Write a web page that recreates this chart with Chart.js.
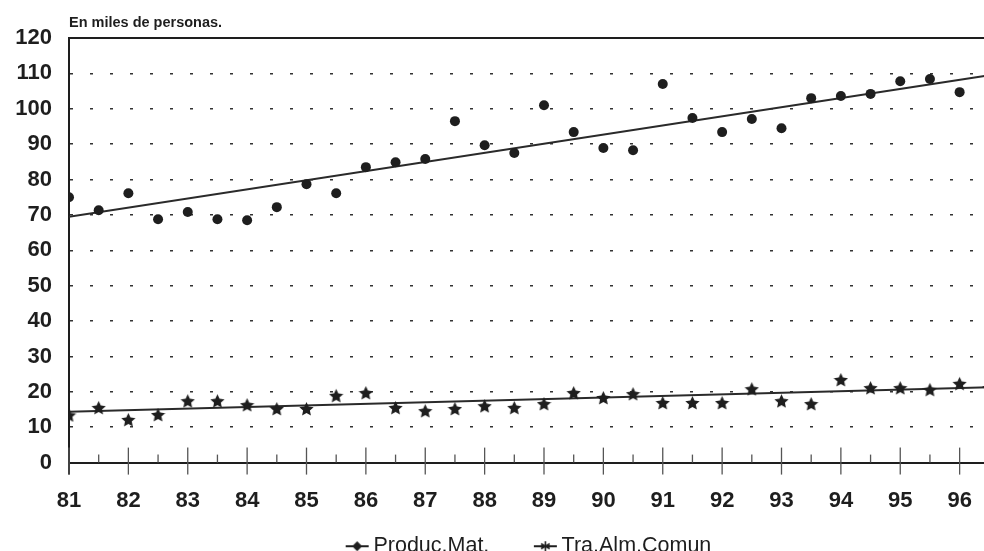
<!DOCTYPE html>
<html>
<head>
<meta charset="utf-8">
<script src="https://cdn.jsdelivr.net/npm/chart.js@4.4.1/dist/chart.umd.min.js"></script>
<style>
  html, body { margin: 0; padding: 0; background: #fff; overflow: hidden; }
  #wrap { width: 1058px; height: 570px; position: relative; }
</style>
</head>
<body>
<div id="wrap"><canvas id="chart"></canvas></div>
<script>
// half-year periods, 81 .. 96.5
const periods = [81, 81.5, 82, 82.5, 83, 83.5, 84, 84.5, 85, 85.5, 86, 86.5,
  87, 87.5, 88, 88.5, 89, 89.5, 90, 90.5, 91, 91.5, 92, 92.5, 93, 93.5,
  94, 94.5, 95, 95.5, 96, 96.5]

const produc_mat = [75, 71.3, 76.1, 68.8, 70.8, 68.8, 68.5, 72.2, 78.7, 76.1,
  83.5, 84.9, 85.8, 96.5, 89.7, 87.5, 101, 93.4, 88.9, 88.3, 107, 97.4,
  93.4, 97.1, 94.5, 103, 103.6, 104.2, 107.8, 108.4, 104.7, 104.7]

const tra_alm_comun = [13.5, 15.6, 12.2, 13.6, 17.5, 17.5, 16.4, 15.3, 15.3, 19.0,
  19.8, 15.6, 14.7, 15.3, 16.1, 15.6, 16.7, 19.8, 18.4, 19.5, 17.0, 17.0,
  17.0, 20.9, 17.5, 16.7, 23.5, 21.2, 21.2, 20.7, 22.4, 21.2]

// trend lines, read at the two ends
const trend_x = [81, 96.5]
const produc_trend = [69.5, 109.5]
const tra_trend = [14.4, 21.3]

const year_ticks = [81, 82, 83, 84, 85, 86, 87, 88, 89, 90, 91, 92, 93, 94, 95, 96]
const series_names = ['Produc.Mat.', 'Tra.Alm.Comun']
const title_text = 'En miles de personas.'

const INK = '#1e1e1e'
const FONT = "'Liberation Sans', Arial, sans-serif"

function to_points(xs, ys) {
  return xs.map((x, i) => ({ x: x, y: ys[i] }))
}

// filled five point star used as point marker
function make_star(size, color) {
  const c = document.createElement('canvas')
  c.width = size
  c.height = size
  const g = c.getContext('2d')
  const r_out = size / 2, r_in = size / 4.2
  g.beginPath()
  for (let i = 0; i < 10; i++) {
    const r = i % 2 == 0 ? r_out : r_in
    const a = -Math.PI / 2 + i * Math.PI / 5
    const px = size / 2 + r * Math.cos(a)
    const py = size / 2 + 1 + r * Math.sin(a)
    if (i == 0) g.moveTo(px, py)
    else g.lineTo(px, py)
  }
  g.closePath()
  g.fillStyle = color
  g.fill()
  return c
}

// legend marker: short line with a symbol on it, placed at the right of the image
function make_legend_marker(kind) {
  const c = document.createElement('canvas')
  c.width = 54
  c.height = 14
  const g = c.getContext('2d')
  g.strokeStyle = INK
  g.fillStyle = INK
  g.lineWidth = 2
  g.beginPath()
  g.moveTo(30, 7)
  g.lineTo(53, 7)
  g.stroke()
  if (kind == 'diamond') {
    g.beginPath()
    g.moveTo(41.5, 2)
    g.lineTo(46.5, 7)
    g.lineTo(41.5, 12)
    g.lineTo(36.5, 7)
    g.closePath()
    g.fill()
  } else {
    g.lineWidth = 1.6
    for (let i = 0; i < 3; i++) {
      const a = i * Math.PI / 3 + Math.PI / 2
      g.beginPath()
      g.moveTo(41.5 - 5 * Math.cos(a), 7 - 5 * Math.sin(a))
      g.lineTo(41.5 + 5 * Math.cos(a), 7 + 5 * Math.sin(a))
      g.stroke()
    }
  }
  return c
}

const star_img = make_star(15, INK)
const legend_markers = [make_legend_marker('diamond'), make_legend_marker('star')]

const frame_plugin = {
  id: 'frame_plugin',
  afterDatasetsDraw(chart) {
    const { ctx, chartArea } = chart
    const xs = chart.scales.x
    const y0 = chart.scales.y.getPixelForValue(0)
    ctx.save()
    ctx.strokeStyle = INK
    // top line
    ctx.lineWidth = 2
    ctx.beginPath()
    ctx.moveTo(chartArea.left, chartArea.top)
    ctx.lineTo(chartArea.right, chartArea.top)
    ctx.stroke()
    // y axis runs a bit below zero
    ctx.beginPath()
    ctx.moveTo(chartArea.left, chartArea.bottom)
    ctx.lineTo(chartArea.left, chartArea.bottom + 12)
    ctx.stroke()
    // year ticks crossing the zero line
    ctx.lineWidth = 1.3
    ctx.strokeStyle = '#555'
    year_ticks.forEach(v => {
      const px = xs.getPixelForValue(v)
      ctx.beginPath()
      ctx.moveTo(px, y0 - 15)
      ctx.lineTo(px, y0 + 12)
      ctx.stroke()
      const hx = xs.getPixelForValue(v + 0.5)
      ctx.beginPath()
      ctx.moveTo(hx, y0 - 8)
      ctx.lineTo(hx, y0)
      ctx.stroke()
    })
    ctx.restore()
  },
  afterDraw(chart) {
    const { ctx, chartArea } = chart
    ctx.save()
    ctx.font = 'bold 14.5px ' + FONT
    ctx.fillStyle = INK
    ctx.textBaseline = 'middle'
    ctx.fillText(title_text, chartArea.left, 23)
    ctx.restore()
  }
}

const ctx = document.getElementById('chart')
const myChart = new Chart(ctx, {
  type: 'scatter',
  data: {
    datasets: [
      {
        label: series_names[0],
        data: to_points(periods, produc_mat),
        pointStyle: 'circle',
        pointRadius: 5,
        backgroundColor: INK,
        borderColor: INK,
        borderWidth: 0,
        order: 1
      },
      {
        label: series_names[1],
        data: to_points(periods, tra_alm_comun),
        pointStyle: star_img,
        pointRadius: 7,
        backgroundColor: INK,
        borderColor: INK,
        order: 2
      },
      {
        type: 'line',
        label: 'trend1',
        data: to_points(trend_x, produc_trend),
        borderColor: '#2a2a2a',
        borderWidth: 2,
        pointRadius: 0,
        fill: false,
        order: 3
      },
      {
        type: 'line',
        label: 'trend2',
        data: to_points(trend_x, tra_trend),
        borderColor: '#2a2a2a',
        borderWidth: 2,
        pointRadius: 0,
        fill: false,
        order: 4
      }
    ]
  },
  options: {
    responsive: true,
    maintainAspectRatio: false,
    animation: false,
    layout: { padding: { left: 15, right: 39, top: 38, bottom: 3 } },
    plugins: {
      tooltip: { enabled: false },
      legend: {
        position: 'bottom',
        labels: {
          usePointStyle: true,
          pointStyleWidth: 40,
          boxHeight: 14,
          padding: 21.5,
          color: INK,
          font: { family: FONT, size: 21.5 },
          generateLabels: (chart) => series_names.map((name, i) => ({
            text: name,
            pointStyle: legend_markers[i],
            fillStyle: INK,
            strokeStyle: INK,
            lineWidth: 0,
            fontColor: INK,
            datasetIndex: i
          }))
        }
      }
    },
    scales: {
      x: {
        type: 'linear',
        min: 81,
        max: 97,
        afterFit: s => { s.height = 51.4 },
        ticks: {
          stepSize: 1,
          padding: 25,
          color: INK,
          font: { family: FONT, size: 22, weight: 'bold' },
          callback: v => (year_ticks.includes(v) ? String(v) : '')
        },
        grid: { drawOnChartArea: false, drawTicks: false },
        border: { color: INK, width: 2 }
      },
      y: {
        min: 0,
        max: 120,
        afterFit: s => { s.width = 54 },
        ticks: {
          stepSize: 10,
          padding: 17,
          color: INK,
          font: { family: FONT, size: 22, weight: 'bold' }
        },
        grid: {
          drawTicks: false,
          lineWidth: 1.6,
          color: c => (c.tick && (c.tick.value == 0 || c.tick.value == 120)) ? 'rgba(0,0,0,0)' : '#333'
        },
        border: { color: INK, width: 2, dash: [3, 17] }
      }
    }
  },
  plugins: [frame_plugin]
})
</script>
</body>
</html>
